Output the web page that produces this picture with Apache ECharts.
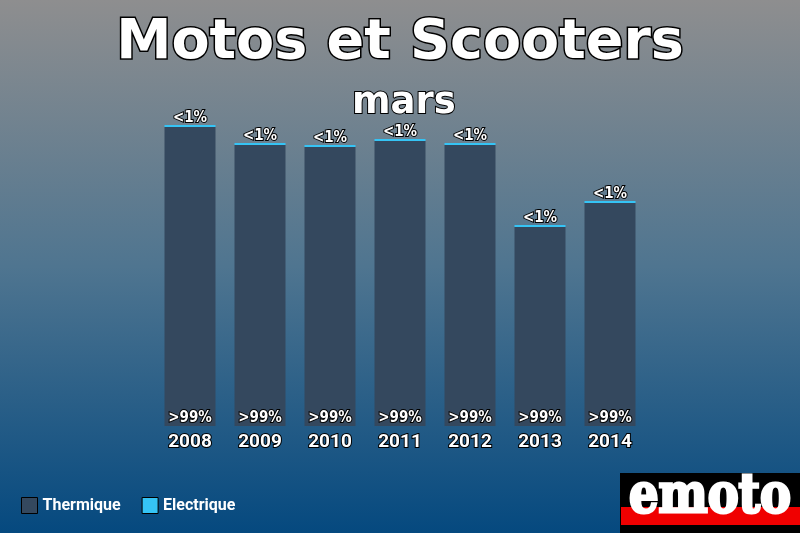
<!DOCTYPE html>
<html>
<head>
<meta charset="utf-8">
<script src="https://cdn.jsdelivr.net/npm/echarts@6/dist/echarts.min.js"></script>
<style>html,body{margin:0;padding:0;}#c{width:800px;height:533px;}</style>
</head>
<body>
<div id="c"></div>
<script>
const years = ['2008','2009','2010','2011','2012','2013','2014'];
const thermique = [29900, 28100, 27900, 28500, 28100, 19900, 22300];
const electrique = [200, 200, 200, 200, 200, 200, 200];
const labelTop = '<1%';
const labelBottom = '>99%';

const chart = echarts.init(document.getElementById('c'));
const stroke = {color:'#fff', textBorderColor:'#000', textBorderWidth:2};
chart.setOption({
  backgroundColor: {type:'linear', x:0, y:0, x2:0, y2:1, colorStops:[
    {offset:0, color:'#8e8e8f'}, {offset:0.5, color:'#4f7590'}, {offset:1, color:'#05497f'}]},
  title: [
    {text:'Motos et Scooters', left:'center', top:6,
     textStyle:{color:'#fff', textBorderColor:'#000', textBorderWidth:3, fontFamily:'DejaVu Sans', fontWeight:'bold', fontSize:55.5, lineHeight:66}},
    {text:'mars', left:347, top:77,
     textStyle:{color:'#fff', textBorderColor:'#000', textBorderWidth:2, fontFamily:'DejaVu Sans', fontWeight:'bold', fontSize:37, lineHeight:42}}
  ],
  legend: {
    left:16, top:492, icon:'rect', itemWidth:16, itemHeight:16, itemGap:21,
    itemStyle:{borderColor:'#000', borderWidth:1},
    textStyle:{color:'#fff', fontFamily:'Roboto', fontWeight:'bold', fontSize:16},
    data:['Thermique','Electrique']
  },
  grid: {left:155, right:155, top:100, bottom:107},
  xAxis: {type:'category', data:years, axisLine:{show:false}, axisTick:{show:false},
    axisLabel:Object.assign({fontFamily:'Roboto', fontWeight:'bold', fontSize:19, margin:7}, stroke)},
  yAxis: {type:'value', min:0, max:32600, show:false, splitLine:{show:false}},
  series: [
    {name:'Thermique', type:'bar', stack:'a', data:thermique, barWidth:51,
     itemStyle:{color:'#34485e'},
     label:Object.assign({show:true, position:'insideBottom', distance:0, formatter:labelBottom,
       fontFamily:'DejaVu Sans', fontWeight:'bold condensed', fontSize:15}, stroke)},
    {name:'Electrique', type:'bar', stack:'a', data:electrique, barWidth:51,
     itemStyle:{color:'#35c4f5'},
     label:Object.assign({show:true, position:'top', distance:-1, formatter:labelTop,
       fontFamily:'DejaVu Sans', fontWeight:'bold condensed', fontSize:15}, stroke)}
  ],
  graphic: [
    {type:'rect', shape:{x:620, y:473, width:180, height:60}, style:{fill:'#000'}, silent:true},
    {type:'rect', shape:{x:621, y:507, width:179, height:18}, style:{fill:'#f00000'}, silent:true},
    {type:'text', x:710, y:498, scaleX:0.86, originX:0, originY:0,
     style:{text:'emoto', fill:'#fff', stroke:'#fff', lineWidth:3, fontSize:54, fontFamily:'DejaVu Serif', fontWeight:'bold', align:'center', verticalAlign:'middle'}, silent:true}
  ]
});
</script>
</body>
</html>
